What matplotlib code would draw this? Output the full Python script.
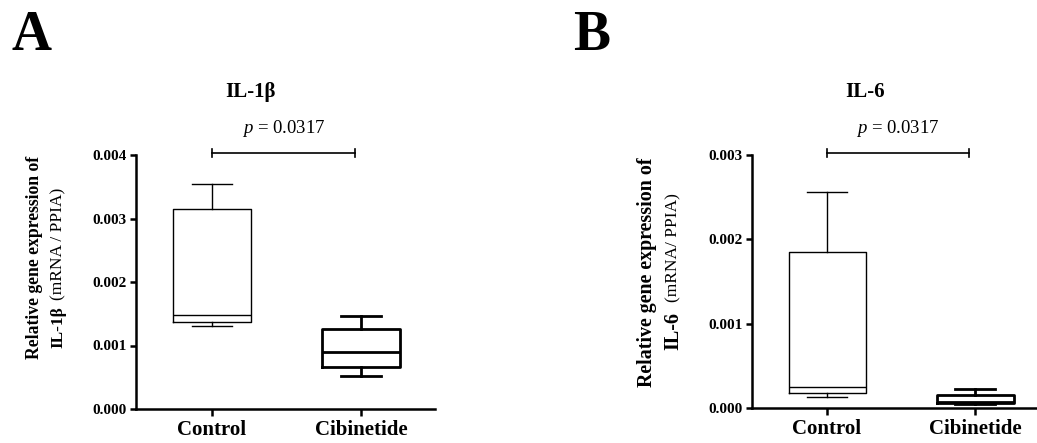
import numpy as np
import matplotlib
matplotlib.use("Agg")
import matplotlib.pyplot as plt

plt.rcParams['font.family'] = 'Liberation Serif'
plt.rcParams['mathtext.fontset'] = 'custom'
plt.rcParams['mathtext.rm'] = 'Liberation Serif'
plt.rcParams['mathtext.it'] = 'Liberation Serif:italic'
plt.rcParams['mathtext.bf'] = 'Liberation Serif:bold'

# Daten
groups = ['Control', 'Cibinetide']

il1b_whislo = [0.00130, 0.00052]
il1b_q1 = [0.001365, 0.000666]
il1b_med = [0.001485, 0.000902]
il1b_q3 = [0.003145, 0.001255]
il1b_whishi = [0.00355, 0.00146]

il6_whislo = [0.000134, 0.000052]
il6_q1 = [0.000175, 0.000057]
il6_med = [0.000253, 0.000070]
il6_q3 = [0.00185, 0.000155]
il6_whishi = [0.00256, 0.00022]

p_values = ['0.0317', '0.0317']

W, H = 1037, 443
fig = plt.figure(figsize=(W / 100, H / 100), dpi=100)


def fx(px):
    return px / W


def fy(py):
    return 1 - py / H


def style_axes(ax, ymax, yticks):
    for s in ['top', 'right']:
        ax.spines[s].set_visible(False)
    for s in ['left', 'bottom']:
        ax.spines[s].set_linewidth(1.8)
    ax.set_ylim(0, ymax)
    ax.set_yticks(yticks)
    ax.set_yticklabels([f'{t:.3f}' for t in yticks], fontweight='bold', fontsize=11)
    ax.set_xticks([1, 2])
    ax.set_xticklabels(groups, fontweight='bold', fontsize=15)
    ax.tick_params(axis='y', direction='out', length=4, width=1.8, pad=2.5)
    ax.tick_params(axis='x', direction='out', length=5, width=1.8, pad=3)


def draw_boxes(ax, lo, q1, med, q3, hi):
    lws = [1.0, 2.0]
    for i in range(2):
        st = [dict(whislo=lo[i], q1=q1[i], med=med[i], q3=q3[i], whishi=hi[i])]
        props = dict(color='black', linewidth=lws[i])
        ax.bxp(st, positions=[i + 1], widths=0.52, capwidths=0.27,
               showfliers=False, boxprops=props, whiskerprops=props,
               capprops=props, medianprops=props, manage_ticks=False)


def sig_bar(ax, y, text):
    ymin, ymax = ax.get_ylim()
    ax_h = ax.get_position().height * H
    d = 4 * (ymax - ymin) / ax_h
    x1, x2 = 1.0, 1.96
    ax.plot([x1, x2], [y, y], color='black', lw=1.2, clip_on=False)
    ax.plot([x1, x1], [y - d, y + d], color='black', lw=1.2, clip_on=False)
    ax.plot([x2, x2], [y - d, y + d], color='black', lw=1.2, clip_on=False)
    ax.annotate(r'$p$ = ' + text, xy=((x1 + x2) / 2, y), xytext=(0, 25),
                textcoords='offset pixels', ha='center', va='center',
                fontsize=13.5, annotation_clip=False)


# Panel A
axA = fig.add_axes([fx(136), fy(409), fx(435) - fx(136), (409 - 155) / H])
draw_boxes(axA, il1b_whislo, il1b_q1, il1b_med, il1b_q3, il1b_whishi)
axA.set_xlim(0.49, 2.497)
style_axes(axA, 0.004, [0.000, 0.001, 0.002, 0.003, 0.004])
sig_bar(axA, 0.00403, p_values[0])

# Panel B
axB = fig.add_axes([fx(752), fy(408), fx(1040) - fx(752), (408 - 155) / H])
draw_boxes(axB, il6_whislo, il6_q1, il6_med, il6_q3, il6_whishi)
axB.set_xlim(0.493, 0.493 + 288 / 148)
style_axes(axB, 0.003, [0.000, 0.001, 0.002, 0.003])
sig_bar(axB, 0.00302, p_values[1])

# Titel und Buchstaben
fig.text(fx(251), fy(92), 'IL-1β', ha='center', va='center', fontsize=15, fontweight='bold')
fig.text(fx(865), fy(92), 'IL-6', ha='center', va='center', fontsize=15, fontweight='bold')
fig.text(fx(12), fy(50), 'A', ha='left', va='baseline', fontsize=40, fontweight='bold')
fig.text(fx(573), fy(50), 'B', ha='left', va='baseline', fontsize=40, fontweight='bold')

# Y-Achsenbeschriftungen (zweizeilig, gemischte Schrift)
fig.text(fx(35), fy(257), 'Relative gene expression of', rotation=90,
         ha='center', va='center', fontsize=12.7, fontweight='bold')
fig.text(fx(58), fy(348), 'IL-1β', rotation=90, rotation_mode='anchor',
         ha='left', va='center', fontsize=12.5, fontweight='bold')
fig.text(fx(58), fy(300), '(mRNA / PPIA)', rotation=90, rotation_mode='anchor',
         ha='left', va='center', fontsize=12.5)

fig.text(fx(647), fy(272), 'Relative gene expression of', rotation=90,
         ha='center', va='center', fontsize=14.4, fontweight='bold')
fig.text(fx(673), fy(350), 'IL-6', rotation=90, rotation_mode='anchor',
         ha='left', va='center', fontsize=14.5, fontweight='bold')
fig.text(fx(673), fy(302), '(mRNA/ PPIA)', rotation=90, rotation_mode='anchor',
         ha='left', va='center', fontsize=12.5)

fig.savefig('out.png', dpi=100)
